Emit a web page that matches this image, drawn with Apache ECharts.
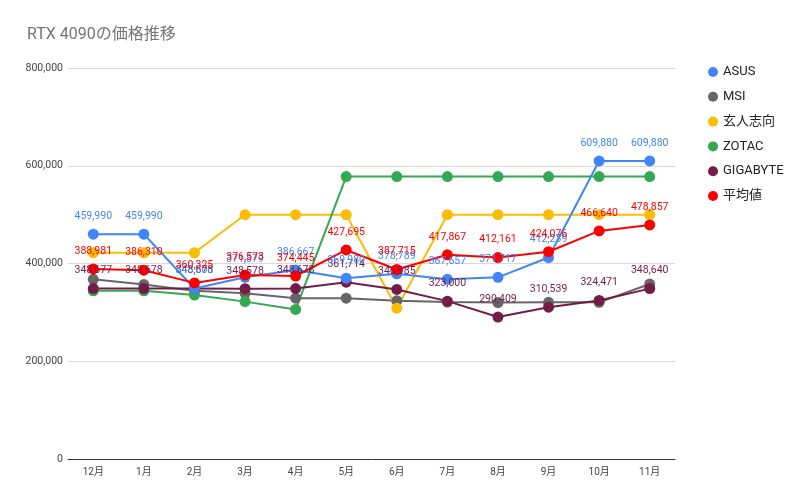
<!DOCTYPE html>
<html>
<head>
<meta charset="utf-8">
<script src="https://cdn.jsdelivr.net/npm/echarts@6/dist/echarts.min.js"></script>
<style>html,body{margin:0;padding:0;background:#fff}#c{width:812px;height:502px}</style>
</head>
<body>
<div id="c"></div>
<script>
const months = ['12月','1月','2月','3月','4月','5月','6月','7月','8月','9月','10月','11月'];
const yTicks = [0, 200000, 400000, 600000, 800000];
const asus = [459990, 459990, 348800, 371879, 386667, 369980, 378789, 367657, 371717, 412239, 609880, 609880];
const msi = [367600, 357000, 344000, 339000, 329000, 329000, 324000, 321000, 320000, 320500, 320500, 358000];
const kuroto = [422000, 422000, 422000, 499800, 499800, 499800, 308500, 499800, 499800, 499800, 499800, 499800];
const zotac = [344000, 344000, 335500, 322000, 306000, 577800, 577800, 577800, 577800, 577800, 577800, 577800];
const gigabyte = [348677, 348678, 348678, 348578, 348678, 361714, 346985, 323000, 290409, 310539, 324471, 348640];
const average = [388981, 386310, 360325, 376573, 374445, 427695, 387715, 417867, 412161, 424076, 466640, 478857];

const fmt = v => String(v).replace(/\B(?=(\d{3})+(?!\d))/g, ',');
const FONT = 'Roboto, "Noto Sans CJK JP", sans-serif';

function mk(name, data, color, showLabel) {
  return {
    name, type: 'line', data, color,
    symbol: 'circle', symbolSize: 11,
    lineStyle: { width: 2, color },
    itemStyle: { color },
    emphasis: { disabled: true },
    label: {
      show: showLabel, position: 'top', distance: 7,
      color, fontFamily: FONT, fontSize: 10.5,
      formatter: p => fmt(p.value)
    }
  };
}

const chart = echarts.init(document.getElementById('c'));
chart.setOption({
  animation: false,
  backgroundColor: '#fff',
  title: {
    text: 'RTX 4090の価格推移', left: 27, top: 27, padding: 0,
    textStyle: { fontFamily: FONT, fontSize: 16, fontWeight: 'normal', color: '#757575' }
  },
  legend: {
    orient: 'vertical', left: 703, top: 60,
    icon: 'circle', itemWidth: 10, itemHeight: 10, itemGap: 10.8,
    textStyle: { fontFamily: FONT, fontSize: 13, color: '#222', lineHeight: 14 },
    data: ['ASUS','MSI','玄人志向','ZOTAC','GIGABYTE','平均値']
  },
  grid: { left: 68, right: 137, top: 68, bottom: 43, containLabel: false },
  xAxis: {
    type: 'category', data: months, boundaryGap: true,
    axisTick: { show: false },
    axisLine: { lineStyle: { color: '#333', width: 1 } },
    axisLabel: { fontFamily: FONT, fontSize: 10, color: '#444', margin: 8 }
  },
  yAxis: {
    type: 'value', min: yTicks[0], max: yTicks[yTicks.length-1], interval: yTicks[1]-yTicks[0],
    axisLine: { show: false }, axisTick: { show: false },
    splitLine: { lineStyle: { color: '#d9d9d9' } },
    axisLabel: { fontFamily: FONT, fontSize: 10.5, color: '#444', margin: 5, formatter: v => fmt(v) }
  },
  series: [
    mk('MSI', msi, '#666666', false),
    mk('玄人志向', kuroto, '#fbbc04', false),
    mk('ZOTAC', zotac, '#34a853', false),
    mk('GIGABYTE', gigabyte, '#741b47', true),
    mk('ASUS', asus, '#4285f4', true),
    mk('平均値', average, '#ff0000', true)
  ]
});
</script>
</body>
</html>
